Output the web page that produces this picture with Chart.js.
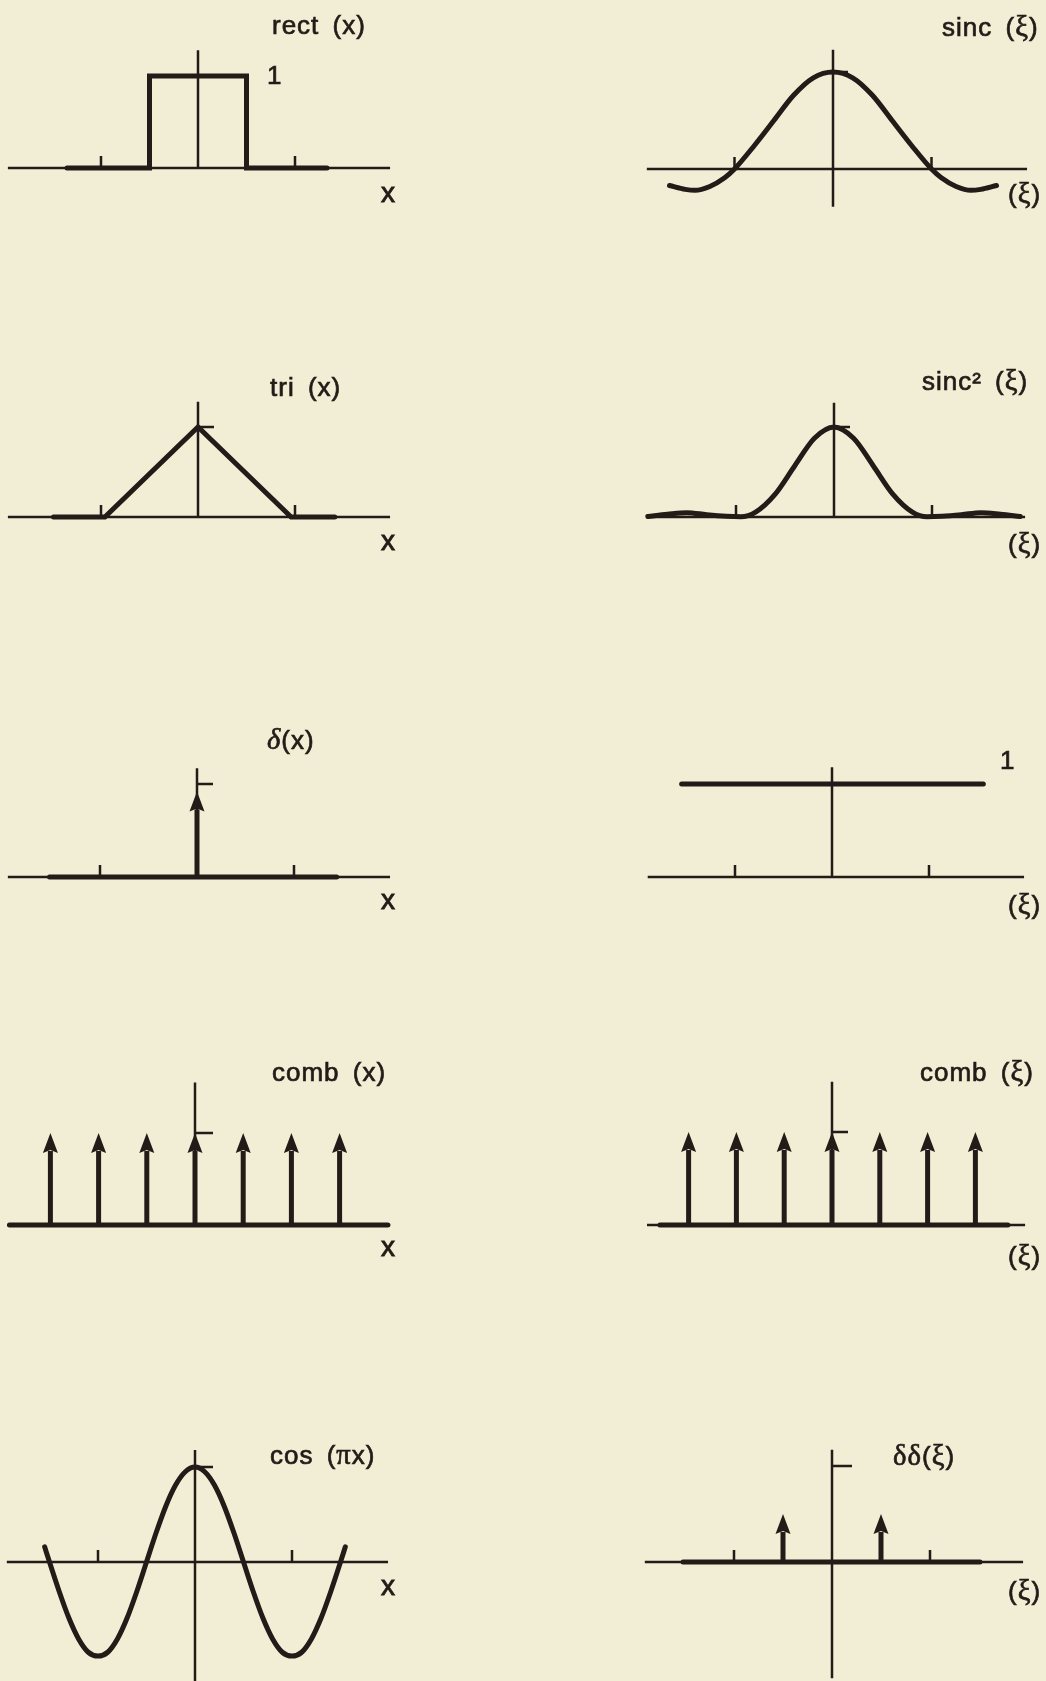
<!DOCTYPE html>
<html>
<head>
<meta charset="utf-8">
<script src="https://cdn.jsdelivr.net/npm/chart.js@4.4.1/dist/chart.umd.min.js"></script>
<style>
  html, body { margin: 0; padding: 0; background: #f2eed6; }
  #sheet { position: relative; width: 1046px; height: 1681px; overflow: hidden; }
  #sheet canvas { position: absolute; }
  .lbl {
    position: absolute;
    font-family: 'Liberation Sans', Arial, sans-serif;
    font-size: 26px;
    color: #231b17;
    line-height: 1;
    letter-spacing: 1px;
    word-spacing: 5px;
    white-space: nowrap;
    transform: translateY(-50%);
    -webkit-text-stroke: 0.7px #231b17;
  }
  .lbl.ax { font-size: 28px; -webkit-text-stroke: 0.9px #231b17; }
  .gr { font-family: 'Liberation Serif', serif; font-size: 1.1em; }
  .it { font-style: italic; }
</style>
</head>
<body>
<div id="sheet"></div>
<script>
const INK = '#231b17';

// rect(x)
const rectX = [-1.35, -0.5, -0.5, 0.5, 0.5, 1.33];
const rectY = [0, 0, 1, 1, 0, 0];

// sinc(xi)
const sincXi  = [-1.66, -1.5, -1.4, -1.25, -1.1, -1.0, -0.8, -0.6, -0.4, -0.2, 0, 0.2, 0.4, 0.6, 0.8, 1.0, 1.1, 1.25, 1.4, 1.5, 1.66];
const sincVal = [-0.17, -0.21, -0.22, -0.18, -0.09, 0, 0.24, 0.5, 0.76, 0.94, 1, 0.94, 0.76, 0.5, 0.24, 0, -0.09, -0.18, -0.22, -0.21, -0.17];

// tri(x)
const triX = [-1.49, -0.96, 0, 0.96, 1.41];
const triY = [0, 0, 1, 0, 0];

// sinc^2(xi)
const sinc2Xi  = [-1.9, -1.7, -1.5, -1.3, -1.1, -0.95, -0.8, -0.6, -0.4, -0.2, 0, 0.2, 0.4, 0.6, 0.8, 0.95, 1.1, 1.3, 1.5, 1.7, 1.9];
const sinc2Val = [0.005, 0.03, 0.048, 0.025, 0.008, 0.003, 0.055, 0.255, 0.57, 0.875, 1, 0.875, 0.57, 0.255, 0.055, 0.003, 0.008, 0.025, 0.048, 0.03, 0.005];

// delta(x)
const deltaPos = [0];
const deltaHeight = [0.92];
const deltaBase = [-1.52, 1.44];

// constant 1
const oneXi = [-1.55, 1.56];
const oneVal = [1, 1];

// comb(x) and comb(xi)
const combPos = [-3, -2, -1, 0, 1, 2, 3];
const combHeight = [1, 1, 1, 1, 1, 1, 1];
const combXBase = [-3.85, 4.0];
const combXiBase = [-3.6, 3.68];

// cos(pi x)
const cosX   = [-1.55, -1.5, -1.4, -1.3, -1.2, -1.1, -1.0, -0.9, -0.8, -0.7, -0.6, -0.5, -0.4, -0.3, -0.2, -0.1, 0, 0.1, 0.2, 0.3, 0.4, 0.5, 0.6, 0.7, 0.8, 0.9, 1.0, 1.1, 1.2, 1.3, 1.4, 1.5, 1.55];
const cosVal = [0.16, 0, -0.31, -0.59, -0.81, -0.95, -0.99, -0.95, -0.81, -0.59, -0.31, 0, 0.31, 0.59, 0.81, 0.95, 1, 0.95, 0.81, 0.59, 0.31, 0, -0.31, -0.59, -0.81, -0.95, -0.99, -0.95, -0.81, -0.59, -0.31, 0, 0.16];

// delta-delta(xi)
const pairPos = [-0.5, 0.5];
const pairHeight = [0.5, 0.5];
const pairBase = [-1.52, 1.51];

const unitTicks = [-1, 1];

const line = (xs, ys, smooth) => ({
  data: xs.map((x, i) => ({ x, y: ys[i] })),
  showLine: true,
  borderColor: INK,
  borderWidth: 5,
  pointRadius: 0,
  borderCapStyle: 'round',
  borderJoinStyle: smooth ? 'round' : 'miter',
  cubicInterpolationMode: smooth ? 'monotone' : 'default'
});

const baseline = (range) => line(range, [0, 0], false);

const impulses = (pos, h) => ({
  impulse: true,
  data: pos.map((x, i) => ({ x, y: h[i] })),
  showLine: false,
  pointRadius: 0
});

// geometry: canvas box [left, top, w, h], origin pixel, pixels per unit
const panels = [
  { box: [0, 0, 420, 230], origin: [198, 168], unit: [97, 92],
    axisX: [-1.96, 1.98], axisY: [0, 1.28], ticks: unitTicks, marker: 0,
    datasets: [line(rectX, rectY, false)] },
  { box: [630, 0, 416, 230], origin: [833, 169], unit: [98.5, 97],
    axisX: [-1.89, 1.97], axisY: [-0.39, 1.23], ticks: unitTicks, marker: 15,
    datasets: [line(sincXi, sincVal, true)] },
  { box: [0, 370, 420, 200], origin: [198, 517], unit: [97, 90],
    axisX: [-1.96, 1.98], axisY: [0, 1.28], ticks: unitTicks, marker: 16,
    datasets: [line(triX, triY, false)] },
  { box: [630, 370, 416, 200], origin: [834, 517], unit: [98, 90],
    axisX: [-1.91, 1.95], axisY: [0, 1.27], ticks: unitTicks, marker: 16,
    datasets: [line(sinc2Xi, sinc2Val, true)] },
  { box: [0, 740, 420, 190], origin: [197, 877], unit: [97, 93],
    axisX: [-1.95, 1.99], axisY: [0, 1.17], ticks: unitTicks, marker: 16,
    datasets: [baseline(deltaBase), impulses(deltaPos, deltaHeight)] },
  { box: [630, 740, 416, 190], origin: [832, 877], unit: [97, 93],
    axisX: [-1.9, 1.98], axisY: [0, 1.18], ticks: unitTicks, marker: 0,
    datasets: [line(oneXi, oneVal, false)] },
  { box: [0, 1070, 420, 190], origin: [195, 1225], unit: [48.2, 92],
    axisX: [-3.88, 4.05], axisY: [0, 1.55], ticks: [], marker: 18,
    datasets: [baseline(combXBase), impulses(combPos, combHeight)] },
  { box: [630, 1070, 416, 190], origin: [832, 1225], unit: [47.8, 93],
    axisX: [-3.87, 4.04], axisY: [0, 1.54], ticks: [], marker: 16,
    datasets: [baseline(combXiBase), impulses(combPos, combHeight)] },
  { box: [0, 1430, 420, 251], origin: [195, 1562], unit: [97, 95],
    axisX: [-1.94, 1.99], axisY: [-1.26, 1.18], ticks: unitTicks, marker: 18,
    datasets: [line(cosX, cosVal, true)] },
  { box: [630, 1430, 416, 251], origin: [832, 1562], unit: [98, 96],
    axisX: [-1.91, 1.95], axisY: [-1.21, 1.17], ticks: unitTicks, marker: 20,
    datasets: [baseline(pairBase), impulses(pairPos, pairHeight)] }
];

// [text, left, vertical centre, class]
const labels = [
  ['rect (x)', 272, 25],
  ['1', 267, 75],
  ['x', 381, 193, 'ax'],
  ['sinc (<span class="gr">ξ</span>)', 942, 27],
  ['(<span class="gr">ξ</span>)', 1008, 194],
  ['tri (x)', 270, 387],
  ['x', 381, 541, 'ax'],
  ['sinc² (<span class="gr">ξ</span>)', 922, 381],
  ['(<span class="gr">ξ</span>)', 1008, 544],
  ['<span class="gr it">δ</span>(x)', 267, 740],
  ['x', 381, 900, 'ax'],
  ['1', 1000, 760],
  ['(<span class="gr">ξ</span>)', 1008, 905],
  ['comb (x)', 272, 1072],
  ['x', 381, 1247, 'ax'],
  ['comb (<span class="gr">ξ</span>)', 920, 1072],
  ['(<span class="gr">ξ</span>)', 1008, 1256],
  ['cos (<span class="gr">π</span>x)', 270, 1455],
  ['x', 381, 1586, 'ax'],
  ['<span class="gr">δδ</span>(<span class="gr">ξ</span>)', 893, 1456],
  ['(<span class="gr">ξ</span>)', 1008, 1591]
];

// axis lines, unit ticks, height marker and impulse arrows
const axesPlugin = {
  id: 'axes',
  beforeDatasetsDraw(chart, args, opts) {
    const { ctx, scales: { x, y } } = chart;
    const x0 = x.getPixelForValue(0);
    const y0 = y.getPixelForValue(0);
    ctx.save();
    ctx.strokeStyle = INK;
    ctx.lineWidth = 2.5;
    ctx.beginPath();
    ctx.moveTo(x.getPixelForValue(opts.axisX[0]), y0);
    ctx.lineTo(x.getPixelForValue(opts.axisX[1]), y0);
    ctx.moveTo(x0, y.getPixelForValue(opts.axisY[0]));
    ctx.lineTo(x0, y.getPixelForValue(opts.axisY[1]));
    opts.ticks.forEach(t => {
      const px = x.getPixelForValue(t);
      ctx.moveTo(px, y0);
      ctx.lineTo(px, y0 - 12);
    });
    if (opts.marker) {
      const py = y.getPixelForValue(1);
      ctx.moveTo(x0, py);
      ctx.lineTo(x0 + opts.marker, py);
    }
    ctx.stroke();
    ctx.restore();
  },
  afterDatasetsDraw(chart) {
    const { ctx, scales: { y } } = chart;
    const base = y.getPixelForValue(0);
    chart.data.datasets.forEach((ds, i) => {
      if (!ds.impulse) return;
      chart.getDatasetMeta(i).data.forEach(pt => {
        const head = 20, half = 7.5;
        ctx.save();
        ctx.strokeStyle = INK;
        ctx.fillStyle = INK;
        ctx.lineWidth = 5;
        ctx.beginPath();
        ctx.moveTo(pt.x, base);
        ctx.lineTo(pt.x, pt.y + head - 2);
        ctx.stroke();
        ctx.beginPath();
        ctx.moveTo(pt.x, pt.y);
        ctx.lineTo(pt.x - half, pt.y + head);
        ctx.lineTo(pt.x, pt.y + head - 3);
        ctx.lineTo(pt.x + half, pt.y + head);
        ctx.closePath();
        ctx.fill();
        ctx.restore();
      });
    });
  }
};

const sheet = document.getElementById('sheet');

panels.forEach(p => {
  const [left, top, w, h] = p.box;
  const [ox, oy] = p.origin;
  const [ux, uy] = p.unit;
  const cv = document.createElement('canvas');
  cv.width = w;
  cv.height = h;
  cv.style.left = left + 'px';
  cv.style.top = top + 'px';
  sheet.appendChild(cv);

  new Chart(cv, {
    type: 'scatter',
    data: { datasets: p.datasets },
    options: {
      responsive: false,
      animation: false,
      events: [],
      layout: { padding: 0 },
      scales: {
        x: { type: 'linear', display: false, min: (left - ox) / ux, max: (left + w - ox) / ux },
        y: { type: 'linear', display: false, min: (oy - top - h) / uy, max: (oy - top) / uy }
      },
      plugins: {
        legend: { display: false },
        tooltip: { enabled: false },
        axes: { axisX: p.axisX, axisY: p.axisY, ticks: p.ticks, marker: p.marker }
      }
    },
    plugins: [axesPlugin]
  });
});

labels.forEach(([html, left, cy, cls]) => {
  const d = document.createElement('div');
  d.className = cls ? 'lbl ' + cls : 'lbl';
  d.innerHTML = html;
  d.style.left = left + 'px';
  d.style.top = cy + 'px';
  sheet.appendChild(d);
});
</script>
</body>
</html>
